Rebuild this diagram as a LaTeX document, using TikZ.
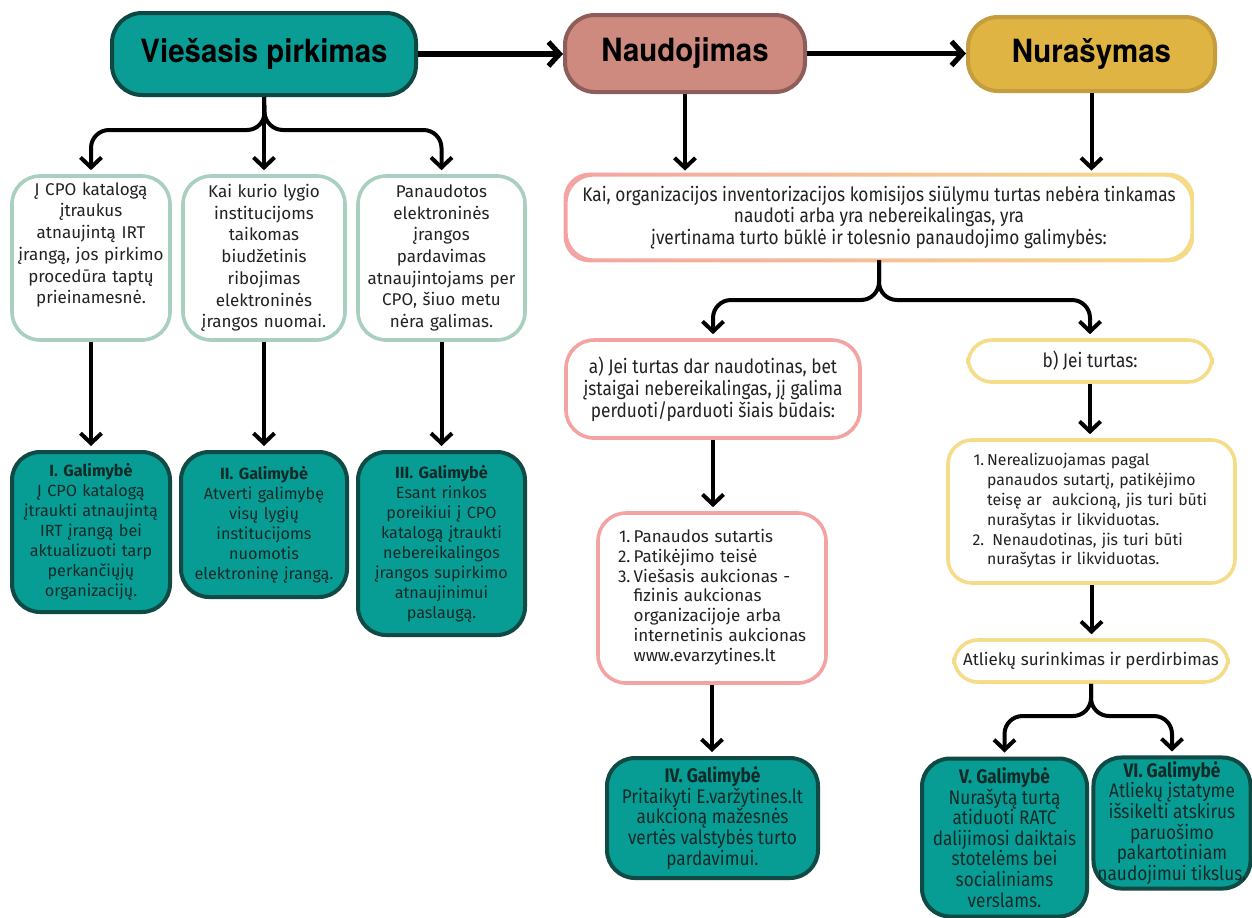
\documentclass[tikz,border=0pt]{standalone}
\usepackage{fontspec}
\setmainfont{Fira Sans}
\newfontfamily\condfont[FakeStretch=0.88]{Fira Sans}
\newfontfamily\headfont[FakeStretch=0.92]{TeX Gyre Heros}
\usetikzlibrary{arrows.meta}
\definecolor{tealF}{HTML}{079C94}
\definecolor{tealD}{HTML}{0F4A45}
\definecolor{txtD}{HTML}{102A28}
\definecolor{hOneF}{HTML}{0A9D96}
\definecolor{hOneD}{HTML}{0D4844}
\definecolor{hTwoF}{HTML}{CE8A7E}
\definecolor{hTwoD}{HTML}{8E5D5A}
\definecolor{hThrF}{HTML}{DFB443}
\definecolor{hThrD}{HTML}{C59C3E}
\definecolor{sageC}{HTML}{A9CFBE}
\definecolor{pinkC}{HTML}{F4A3A3}
\definecolor{yelC}{HTML}{F5DC88}
\definecolor{txtG}{HTML}{222222}
\tikzset{
  hdr/.style={draw, line width=2pt, rounded corners=15pt, text=black,
    font=\headfont\bfseries\fontsize{16}{19}\selectfont},
  sage/.style={draw=sageC, line width=1.8pt, fill=white, rounded corners=14pt,
    align=center, text=txtG, inner sep=2pt, font=\fontsize{8.5}{10.85}\selectfont},
  tealbox/.style={draw=tealD, fill=tealF, line width=2pt, rounded corners=14pt,
    align=center, text=txtD, inner sep=2pt, font=\fontsize{8.1}{10}\selectfont},
  tealcond/.style={tealbox, font=\condfont\fontsize{9.8}{10.3}\selectfont},
  pinkbox/.style={draw=pinkC, line width=1.8pt, fill=white, rounded corners=14pt,
    text=txtG, inner sep=2pt},
  yelbox/.style={draw=yelC, line width=1.8pt, fill=white, rounded corners=12pt,
    text=txtG, inner sep=2pt},
  condtxt/.style={font=\condfont\fontsize{9.8}{10.6}\selectfont, align=center},
  regtxt/.style={font=\fontsize{8.5}{9.9}\selectfont},
  arr/.style={line width=2pt, rounded corners=9pt,
    -{Straight Barb[length=5pt,width=10.5pt]}},
  harr/.style={line width=2.6pt, -{Straight Barb[length=5.5pt,width=12pt]}},
}
\begin{document}
\begin{tikzpicture}[x=0.5pt,y=-0.5pt]
\useasboundingbox[fill=white] (0,0) rectangle (1252,917);

% headers
\node[hdr, fill=hOneF, draw=hOneD, minimum width=152pt, minimum height=41pt] (h1) at (264,54) {Viešasis pirkimas};
\node[hdr, fill=hTwoF, draw=hTwoD, minimum width=120pt, minimum height=38.5pt] (h2) at (685,53.5) {Naudojimas};
\node[hdr, fill=hThrF, draw=hThrD, minimum width=123.5pt, minimum height=37pt] (h3) at (1091.5,54) {Nurašymas};
\draw[harr] (h1.east) -- (h1.east -| h2.west);
\draw[harr] (h2.east) -- (h2.east -| h3.west);

% left column boxes
\node[sage, minimum width=79pt, minimum height=82pt, text width=75pt] (b1) at (91,258)
  {Į CPO katalogą\\ įtraukus\\ atnaujintą IRT\\ įrangą, jos pirkimo\\ procedūra taptų\\ prieinamesnė.\\[4pt]\mbox{}};
\node[sage, minimum width=81pt, minimum height=82pt, text width=77pt] (b2) at (264,258)
  {Kai kurio lygio\\ institucijoms\\ taikomas\\ biudžetinis\\ ribojimas\\ elektroninės\\ įrangos nuomai.};
\node[sage, minimum width=83.5pt, minimum height=82pt, text width=79.5pt] (b3) at (441.5,258)
  {Panaudotos\\ elektroninės\\ įrangos\\ pardavimas\\ atnaujintojams per\\ CPO, šiuo metu\\ nėra galimas.};

\node[tealbox, minimum width=79pt, minimum height=80pt, text width=75pt] (g1) at (91,532)
  {\textbf{I. Galimybė}\\ Į CPO katalogą\\ įtraukti atnaujintą\\ IRT įrangą bei\\ aktualizuoti tarp\\ perkančiųjų\\ organizacijų.};
\node[tealbox, minimum width=81pt, minimum height=72.5pt, text width=79pt] (g2) at (264,524.5)
  {\textbf{II. Galimybė}\\ Atverti galimybę\\ visų lygių\\ institucijoms\\ nuomotis\\ elektroninę įrangą.};
\node[tealbox, minimum width=83.5pt, minimum height=91.5pt, text width=79.5pt] (g3) at (441.5,543.5)
  {\textbf{III. Galimybė}\\ Esant rinkos\\ poreikiui į CPO\\ katalogą įtraukti\\ nebereikalingos\\ įrangos supirkimo\\ atnaujinimui\\ paslaugą.};

\coordinate (s1) at (265,130);
\draw[arr, shorten >=2pt] (h1.south) -- (s1) -| (b1.north);
\draw[arr, shorten >=2pt] (h1.south) -- (s1) -| (b3.north);
\draw[arr, shorten >=2pt] (h1.south) -- (h1.south |- b2.north);
\draw[arr, shorten >=2pt] (b1.south) -- (g1.north);
\draw[arr, shorten >=2pt] (b2.south) -- (g2.north);
\draw[arr, shorten >=2pt] (b3.south) -- (g3.north);

% big box
\node[fill=white, rounded corners=13pt, minimum width=313pt, minimum height=42.5pt, inner sep=2pt, text=txtG, condtxt] (big) at (879,217.5)
  {Kai, organizacijos inventorizacijos komisijos siūlymu turtas nebėra tinkamas\\ naudoti arba yra nebereikalingas, yra\\ įvertinama turto būklė ir tolesnio panaudojimo galimybės:};
\shade[left color=pinkC, right color=yelC, even odd rule, rounded corners=13pt]
  ([shift={(-1pt,-1pt)}]big.south west) rectangle ([shift={(1pt,1pt)}]big.north east)
  ([shift={(1pt,1pt)}]big.south west) rectangle ([shift={(-1pt,-1pt)}]big.north east);
\draw[arr, shorten >=2pt] (h2.south) -- (h2.south |- big.north);
\draw[arr, shorten >=2pt] (h3.south) -- (h3.south |- big.north);

% branch a / b
\node[pinkbox, condtxt, font=\condfont\fontsize{9.8}{11}\selectfont, minimum width=147pt, minimum height=49pt] (a) at (713,389)
  {a) Jei turtas dar naudotinas, bet\\ įstaigai nebereikalingas, jį galima\\ perduoti/parduoti šiais būdais:};
\node[yelbox, condtxt, minimum width=122pt, minimum height=21pt] (bb) at (1090,361) {b) Jei turtas:};
\coordinate (s2) at (879,300);
\draw[arr, shorten >=2pt] (big.south) -- (s2) -| (a.north);
\draw[arr, shorten >=2pt] (big.south) -- (s2) -| (bb.north);

\node[pinkbox, regtxt, minimum width=114pt, minimum height=85pt, text width=94pt, align=left, inner xsep=10pt] (la) at (712,598)
  {\begin{tabular}{@{}r@{\hspace{1.5pt}}l@{}}
   1.&Panaudos sutartis\\ 2.&Patikėjimo teisė\\ 3.&Viešasis aukcionas -\\ &fizinis aukcionas\\
   &organizacijoje arba\\ &internetinis aukcionas\\ &www.evarzytines.lt
   \end{tabular}};
\node[yelbox, font=\fontsize{7.9}{9.9}\selectfont, minimum width=143.5pt, minimum height=71.5pt, text width=118pt, align=left, inner xsep=12.5pt] (lb) at (1091.5,511.5)
  {\begin{tabular}{@{}r@{\hspace{1.5pt}}l@{}}
   1.&Nerealizuojamas pagal\\ &panaudos sutartį, patikėjimo\\ &teisę ar\ \ aukcioną, jis turi būti\\
   &nurašytas ir likviduotas.\\ \llap{2.}&\ Nenaudotinas, jis turi būti\\ &nurašytas ir likviduotas.
   \end{tabular}};
\node[yelbox, regtxt, minimum width=137pt, minimum height=21pt] (at) at (1091,661) {Atliekų surinkimas ir perdirbimas};

\draw[arr, shorten >=2pt] (a.south) -- (a.south |- la.north);
\draw[arr, shorten >=2pt] (bb.south) -- (bb.south |- lb.north);
\draw[arr, shorten >=2pt] (lb.south) -- (lb.south |- at.north);

% bottom teal boxes
\node[tealcond, minimum width=105.5pt, minimum height=60pt] (g4) at (712.5,818)
  {\textbf{IV. Galimybė}\\ Pritaikyti E.varžytines.lt\\ aukcioną mažesnės\\ vertės valstybės turto\\ pardavimui.};
\node[tealcond, minimum width=82.5pt, minimum height=79pt] (g5) at (1004.5,837.5)
  {\textbf{V. Galimybė}\\ Nurašytą turtą\\ atiduoti RATC\\ dalijimosi daiktais\\ stotelėms bei\\ socialiniams\\ verslams.};
\node[tealcond, minimum width=78.5pt, minimum height=65pt] (g6) at (1172,823)
  {\textbf{VI. Galimybė}\\ Atliekų įstatyme\\ išsikelti atskirus\\ paruošimo\\ pakartotiniam\\ naudojimui tikslus.};

\draw[arr, shorten >=2pt] (la.south) -- (la.south |- g4.north);
\coordinate (s3) at (1091,716);
\draw[arr, shorten >=2pt] (at.south) -- (s3) -| (g5.north);
\draw[arr, shorten >=2pt] (at.south) -- (s3) -| (g6.north);
\end{tikzpicture}
\end{document}
